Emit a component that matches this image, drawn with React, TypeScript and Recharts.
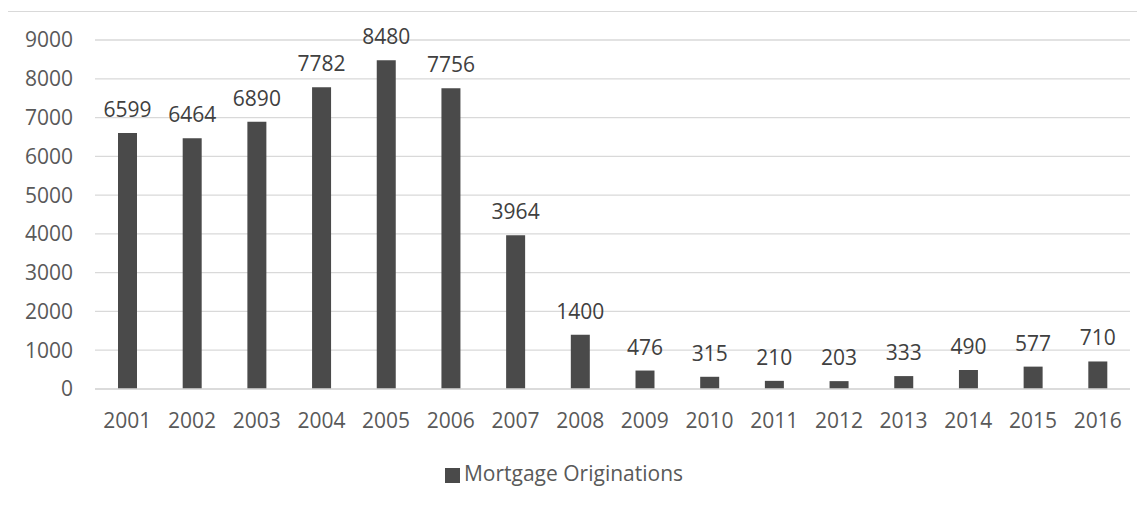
import React from 'react';
import { BarChart, Bar, XAxis, YAxis, CartesianGrid, Legend, LabelList } from 'recharts';

// years on the category axis
const years = [
  '2001', '2002', '2003', '2004', '2005', '2006', '2007', '2008',
  '2009', '2010', '2011', '2012', '2013', '2014', '2015', '2016',
];

// mortgage originations per year
const originations = [
  6599, 6464, 6890, 7782, 8480, 7756, 3964, 1400,
  476, 315, 210, 203, 333, 490, 577, 710,
];

const yTicks = [0, 1000, 2000, 3000, 4000, 5000, 6000, 7000, 8000, 9000];

const data = years.map((y, i) => ({ year: y, value: originations[i] }));

const FONT = '"Open Sans", "Liberation Sans", sans-serif';
const TEXT = '#595959';
const FS = 21;

const App: React.FC = () => {
  return (
    <div
      style={{
        position: 'relative',
        marginLeft: -1,
        marginTop: 3,
        width: 1150,
        height: 510,
        border: '1px solid #d9d9d9',
        boxSizing: 'border-box',
        background: '#fff',
      }}
    >
      <BarChart
        width={1140}
        height={497}
        data={data}
        margin={{ top: 28, right: 18, left: 0, bottom: 22 }}
        style={{ fontFamily: FONT }}
      >
        <CartesianGrid vertical={false} stroke="#d9d9d9" strokeWidth={1.3} />
        <XAxis
          dataKey="year"
          height={70}
          axisLine={{ stroke: '#d9d9d9', strokeWidth: 1.3 }}
          tickLine={false}
          tickSize={0}
          tickMargin={24}
          tick={{ fill: TEXT, fontSize: FS, fontFamily: FONT }}
        />
        <YAxis
          width={87}
          domain={[0, 9000]}
          ticks={yTicks}
          axisLine={false}
          tickLine={false}
          tickSize={0}
          tickMargin={22}
          tick={{ fill: TEXT, fontSize: FS, fontFamily: FONT }}
        />
        <Legend
          verticalAlign="bottom"
          align="center"
          iconType="square"
          iconSize={15}
          wrapperStyle={{ fontFamily: FONT, fontSize: FS }}
          formatter={(v: string) => <span style={{ color: TEXT }}>{v}</span>}
        />
        <Bar
          dataKey="value"
          name="Mortgage Originations"
          fill="#4a4a4a"
          barSize={19}
          isAnimationActive={false}
        >
          <LabelList
            dataKey="value"
            position="top"
            offset={16}
            style={{ fill: '#404040', fontSize: FS, fontFamily: FONT }}
          />
        </Bar>
      </BarChart>
    </div>
  );
};

export default App;
